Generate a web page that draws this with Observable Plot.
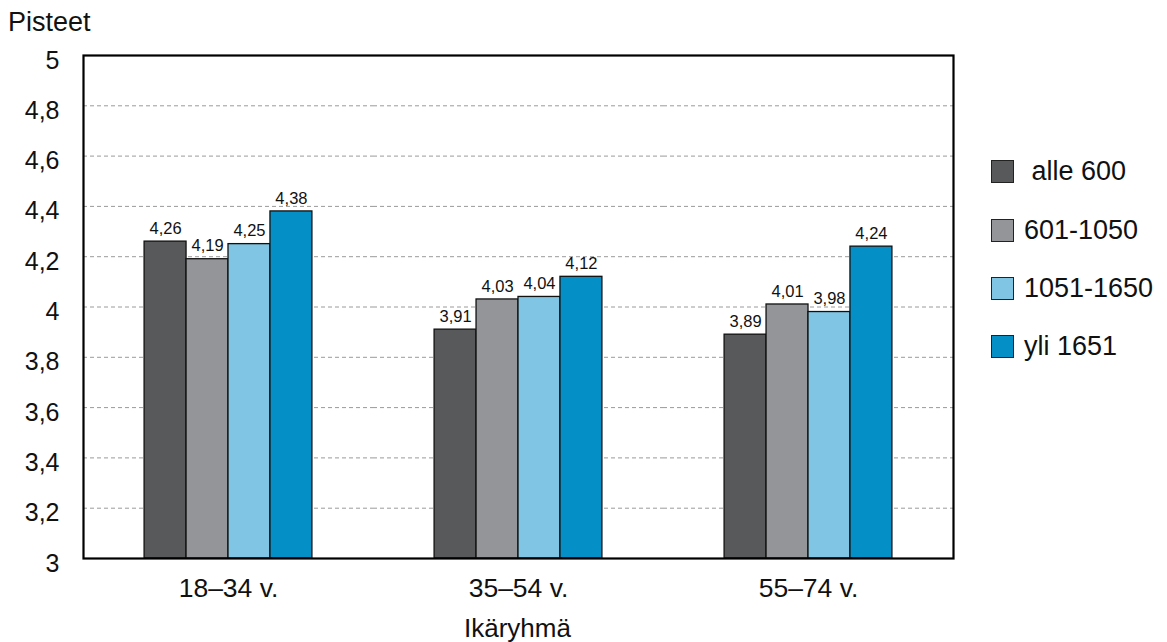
<!DOCTYPE html>
<html>
<head>
<meta charset="utf-8">
<script src="https://cdn.jsdelivr.net/npm/d3@7"></script>
<script src="https://cdn.jsdelivr.net/npm/@observablehq/plot@0.6"></script>
<style>
  html, body { margin: 0; padding: 0; background: #fff; }
  body { width: 1167px; height: 642px; position: relative; overflow: hidden; font-family: "Liberation Sans", Arial, sans-serif; color: #111; }
  #ylabel { position: absolute; left: 8px; top: 7px; font-size: 27px; }
  #xlabel { position: absolute; left: 82px; width: 871px; top: 613px; text-align: center; font-size: 26px; }
  #chart { position: absolute; left: 0; top: 0; }
  #legend { position: absolute; left: 991px; top: 0; font-size: 27px; }
  .item { position: absolute; left: 0; display: flex; align-items: center; white-space: pre; }
  .sw { width: 21px; height: 21px; border: 1.5px solid #222; margin-right: 10px; flex: none; }
</style>
</head>
<body>
<div id="ylabel">Pisteet</div>
<div id="chart"></div>
<div id="xlabel">Ikäryhmä</div>
<div id="legend"></div>
<script>
const groups = ["18–34 v.", "35–54 v.", "55–74 v."];
const series = ["alle 600", "601-1050", "1051-1650", "yli 1651"];
const legendLabels = [" alle 600", "601-1050", "1051-1650", "yli 1651"];
const colors = ["#58595b", "#939598", "#80c5e3", "#048fc7"];
const values = [
  [4.26, 4.19, 4.25, 4.38],
  [3.91, 4.03, 4.04, 4.12],
  [3.89, 4.01, 3.98, 4.24]
];
const yDomain = [3, 5];
const yTicks = [3, 3.2, 3.4, 3.6, 3.8, 4, 4.2, 4.4, 4.6, 4.8, 5];

const data = [];
groups.forEach((g, gi) => series.forEach((s, si) => data.push({group: g, series: s, value: values[gi][si]})));

const comma = v => String(v).replace(".", ",");
const comma2 = v => v.toFixed(2).replace(".", ",");

const chart = Plot.plot({
  width: 970,
  height: 642,
  marginTop: 55,
  marginBottom: 84,
  marginLeft: 82,
  marginRight: 17,
  style: {fontFamily: "'Liberation Sans', Arial, sans-serif", fontSize: "25px", color: "#111", background: "transparent"},
  facet: {data, x: "group"},
  fx: {domain: groups, padding: 0, tickSize: 0, tickPadding: 20, label: null},
  x: {domain: series, paddingInner: 0, paddingOuter: 1.456, round: false, axis: null},
  y: {domain: yDomain, ticks: yTicks, tickFormat: comma, tickSize: 0, tickPadding: 24, label: null},
  color: {domain: series, range: colors},
  marks: [
    Plot.ruleY(yTicks.filter(t => t > yDomain[0] && t < yDomain[1]), {stroke: "#9a9a9a", strokeWidth: 1, strokeDasharray: "4,3"}),
    Plot.barY(data, {x: "series", y1: yDomain[0], y2: "value", fill: "series", stroke: "#111", strokeWidth: 1.3}),
    Plot.text(data, {x: "series", y: "value", text: d => comma2(d.value), dy: -13, fontSize: 16.5, fill: "#111"}),
    Plot.frame({facet: "super", stroke: "#000", strokeWidth: 2.2})
  ]
});
// nudge the y tick labels slightly below their gridlines, as in the reference
chart.querySelectorAll('g[aria-label^="y-axis"]').forEach(g => {
  const t = g.getAttribute("transform") || "";
  g.setAttribute("transform", (t + " translate(0,5)").trim());
});
// fx tick labels a bit larger
chart.querySelectorAll('g[aria-label^="fx-axis"]').forEach(g => g.style.fontSize = "26.5px");
document.getElementById("chart").appendChild(chart);

const legend = document.getElementById("legend");
const rowY = [171, 230, 288, 346];
series.forEach((s, i) => {
  const it = document.createElement("div");
  it.className = "item";
  it.style.top = (rowY[i] - 16) + "px";
  it.style.height = "32px";
  const sw = document.createElement("div");
  sw.className = "sw";
  sw.style.background = colors[i];
  const t = document.createElement("span");
  t.textContent = legendLabels[i];
  it.appendChild(sw);
  it.appendChild(t);
  legend.appendChild(it);
});
</script>
</body>
</html>
